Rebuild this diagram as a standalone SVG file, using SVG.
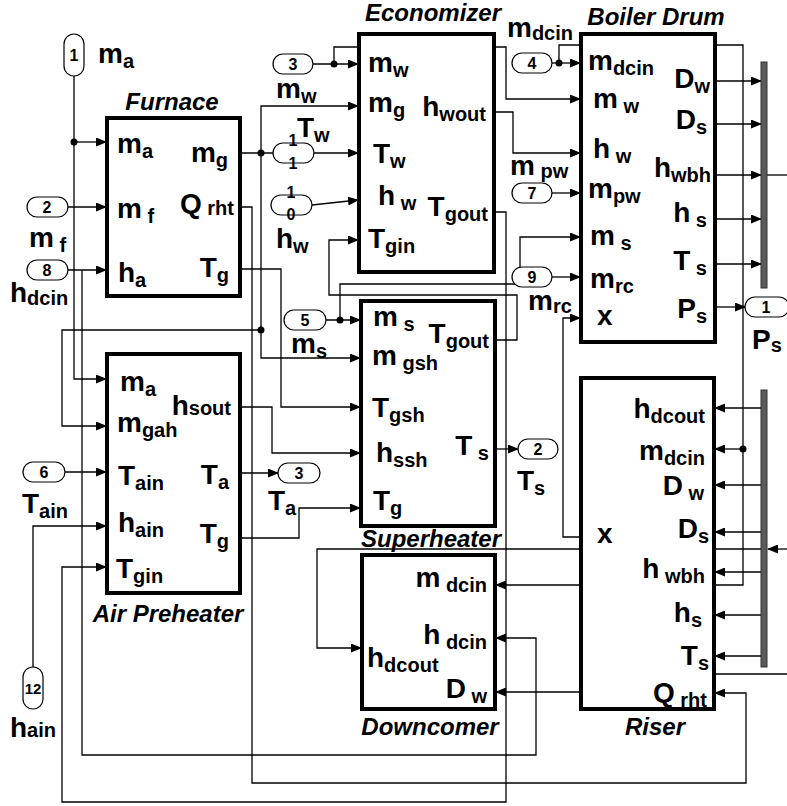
<svg xmlns="http://www.w3.org/2000/svg" width="787" height="806" viewBox="0 0 787 806">
<style>
.blk{fill:#fff;stroke:#000;stroke-width:4}
.w{fill:none;stroke:#000;stroke-width:1.3}
.a{marker-end:url(#ah)}
.port{fill:#fff;stroke:#000;stroke-width:1.2}
.bus{fill:#5a5a5a;stroke:#333;stroke-width:1}
text{font-family:"Liberation Sans",Arial,sans-serif;font-weight:bold;fill:#000}
.t{font-size:28px}
.s{font-size:20px}
.r{text-anchor:end}
.ti{font-size:24px;font-style:italic;text-anchor:middle}
.pn{font-size:16px;text-anchor:middle}
</style>
<defs>
<marker id="ah" markerUnits="userSpaceOnUse" markerWidth="11" markerHeight="9" refX="10" refY="4.5" orient="auto">
<path d="M0,0 L11,4.5 L0,9 z" fill="#000"/>
</marker>
</defs>
<rect width="787" height="806" fill="#fff"/>

<g id="connectors">
<polyline class="w a" points="74,76 74,379 106,379"/>
<polyline class="w a" points="74,142 106,142"/>
<circle cx="74" cy="142" r="3.5"/>
<polyline class="w a" points="68,207 106,207"/>
<polyline class="w a" points="68,270 106,270"/>
<polyline class="w a" points="82,270 82,755 536,755 536,638 496,638"/>
<polyline class="w" points="240,153 273,153"/>
<circle cx="261" cy="153" r="3.5"/>
<polyline class="w a" points="261,153 261,106 358,106"/>
<polyline class="w a" points="261,153 261,358 360,358"/>
<circle cx="261" cy="330" r="3.5"/>
<polyline class="w a" points="261,330 62,330 62,426 106,426"/>
<polyline class="w a" points="240,207 252,207 252,783 746,783 746,693 715,693"/>
<polyline class="w a" points="240,269 281,269 281,407 360,407"/>
<polyline class="w a" points="240,407 272,407 272,453 360,453"/>
<polyline class="w a" points="240,473 278,473"/>
<polyline class="w a" points="240,538 299,538 299,508 360,508"/>
<polyline class="w a" points="65,472 106,472"/>
<polyline class="w a" points="33,667 33,526 106,526"/>
<polyline class="w a" points="494,212 506,212 506,802 62,802 62,567 106,567"/>
<polyline class="w a" points="313,64 358,64"/>
<circle cx="334" cy="64" r="3.5"/>
<polyline class="w a" points="334,64 334,47 506,47 506,99 580,99"/>
<polyline class="w a" points="314,153 358,153"/>
<polyline class="w a" points="312,205 358,200"/>
<polyline class="w a" points="494,112 513,112 513,153 580,153"/>
<polyline class="w a" points="552,63 580,63"/>
<circle cx="559" cy="63" r="3.5"/>
<polyline class="w a" points="559,63 559,45 743,45 743,585 496,585"/>
<circle cx="743" cy="449" r="3.5"/>
<polyline class="w a" points="743,449 715,449"/>
<polyline class="w a" points="552,193 580,193"/>
<polyline class="w a" points="552,277 580,277"/>
<polyline class="w a" points="326,320 360,320"/>
<circle cx="340" cy="320" r="3.5"/>
<polyline class="w a" points="340,320 340,284 520,284 520,237 580,237"/>
<polyline class="w a" points="495,340 517,340 517,295 329,295 329,240 358,240"/>
<polyline class="w a" points="495,449 518,449"/>
<polyline class="w a" points="581,537 563,537 563,318 580,318"/>
<polyline class="w a" points="715,81 761,81"/>
<polyline class="w a" points="715,124 761,124"/>
<polyline class="w a" points="715,175 761,175"/>
<polyline class="w a" points="715,219 761,219"/>
<polyline class="w a" points="715,264 761,264"/>
<polyline class="w a" points="715,307 745,307"/>
<polyline class="w" points="767,175 787,175"/>
<polyline class="w a" points="761,408 715,408"/>
<polyline class="w a" points="761,485 715,485"/>
<polyline class="w a" points="761,532 715,532"/>
<polyline class="w a" points="761,572 715,572"/>
<polyline class="w a" points="761,615 715,615"/>
<polyline class="w a" points="761,656 715,656"/>
<polyline class="w a" points="787,549 768,549"/>
<polyline class="w a" points="761,549 317,549 317,648 361,648"/>
<polyline class="w a" points="787,674 625,674 625,692 496,692"/>
</g>

<g id="furnace">
<rect class="blk" x="107" y="118" width="133" height="178"/>
<text class="ti" x="172" y="110">Furnace</text>
<text class="t" x="117" y="153">m<tspan class="s" dy="5">a</tspan></text>
<text class="t" x="117" y="218">m<tspan class="s" dy="5"> f</tspan></text>
<text class="t" x="118" y="282">h<tspan class="s" dy="5">a</tspan></text>
<text class="t r" x="228" y="162">m<tspan class="s" dy="5">g</tspan></text>
<text class="t r" x="234" y="213">Q<tspan class="s" dy="2"> rht</tspan></text>
<text class="t r" x="229" y="277">T<tspan class="s" dy="5">g</tspan></text>
</g>

<g id="air-preheater">
<rect class="blk" x="107" y="354" width="133" height="239"/>
<text class="ti" x="168" y="622">Air Preheater</text>
<text class="t" x="120" y="391">m<tspan class="s" dy="5">a</tspan></text>
<text class="t" x="117" y="432">m<tspan class="s" dy="5">gah</tspan></text>
<text class="t" x="118" y="485">T<tspan class="s" dy="5">ain</tspan></text>
<text class="t" x="118" y="532">h<tspan class="s" dy="5">ain</tspan></text>
<text class="t" x="116" y="578">T<tspan class="s" dy="5">gin</tspan></text>
<text class="t r" x="231" y="415">h<tspan class="s" dy="0">sout</tspan></text>
<text class="t r" x="229" y="484">T<tspan class="s" dy="5">a</tspan></text>
<text class="t r" x="229" y="543">T<tspan class="s" dy="5">g</tspan></text>
</g>

<g id="economizer">
<rect class="blk" x="359" y="34" width="135" height="238"/>
<text class="ti" x="433" y="21">Economizer</text>
<text class="t" x="368" y="72">m<tspan class="s" dy="5">w</tspan></text>
<text class="t" x="368" y="112">m<tspan class="s" dy="5">g</tspan></text>
<text class="t" x="373" y="163">T<tspan class="s" dy="5">w</tspan></text>
<text class="t" x="378" y="205">h<tspan class="s" dy="5"> w</tspan></text>
<text class="t" x="368" y="248">T<tspan class="s" dy="5">gin</tspan></text>
<text class="t r" x="486" y="116">h<tspan class="s" dy="5">wout</tspan></text>
<text class="t r" x="488" y="216">T<tspan class="s" dy="5">gout</tspan></text>
</g>

<g id="boiler-drum">
<rect class="blk" x="581" y="34" width="134" height="308"/>
<text class="ti" x="656" y="25">Boiler Drum</text>
<text class="t" x="588" y="70">m<tspan class="s" dy="5">dcin</tspan></text>
<text class="t" x="593" y="108">m<tspan class="s" dy="5"> w</tspan></text>
<text class="t" x="593" y="158">h<tspan class="s" dy="5"> w</tspan></text>
<text class="t" x="588" y="198">m<tspan class="s" dy="5">pw</tspan></text>
<text class="t" x="590" y="245">m<tspan class="s" dy="5"> s</tspan></text>
<text class="t" x="590" y="288">m<tspan class="s" dy="5">rc</tspan></text>
<text class="t" x="597" y="325">x</text>
<text class="t r" x="710" y="88">D<tspan class="s" dy="5">w</tspan></text>
<text class="t r" x="707" y="129">D<tspan class="s" dy="5">s</tspan></text>
<text class="t r" x="711" y="177">h<tspan class="s" dy="5">wbh</tspan></text>
<text class="t r" x="707" y="222">h<tspan class="s" dy="5"> s</tspan></text>
<text class="t r" x="707" y="270">T<tspan class="s" dy="5"> s</tspan></text>
<text class="t r" x="707" y="318">P<tspan class="s" dy="5">s</tspan></text>
</g>

<g id="superheater">
<rect class="blk" x="361" y="301" width="134" height="225"/>
<text class="ti" x="431" y="547">Superheater</text>
<text class="t" x="373" y="326">m<tspan class="s" dy="5"> s</tspan></text>
<text class="t" x="372" y="365">m<tspan class="s" dy="5"> gsh</tspan></text>
<text class="t" x="372" y="417">T<tspan class="s" dy="5">gsh</tspan></text>
<text class="t" x="376" y="462">h<tspan class="s" dy="5">ssh</tspan></text>
<text class="t" x="373" y="510">T<tspan class="s" dy="5">g</tspan></text>
<text class="t r" x="489" y="343">T<tspan class="s" dy="5">gout</tspan></text>
<text class="t r" x="489" y="455">T<tspan class="s" dy="5"> s</tspan></text>
</g>

<g id="downcomer">
<rect class="blk" x="362" y="555" width="133" height="154"/>
<text class="ti" x="430" y="735">Downcomer</text>
<text class="t r" x="487" y="587">m<tspan class="s" dy="5"> dcin</tspan></text>
<text class="t r" x="487" y="644">h<tspan class="s" dy="5"> dcin</tspan></text>
<text class="t" x="367" y="667">h<tspan class="s" dy="5">dcout</tspan></text>
<text class="t r" x="487" y="698">D<tspan class="s" dy="5"> w</tspan></text>
</g>

<g id="riser">
<rect class="blk" x="581" y="378" width="133" height="331"/>
<text class="ti" x="655" y="735">Riser</text>
<text class="t r" x="705" y="418">h<tspan class="s" dy="5">dcout</tspan></text>
<text class="t r" x="705" y="460">m<tspan class="s" dy="5">dcin</tspan></text>
<text class="t r" x="704" y="495">D<tspan class="s" dy="5"> w</tspan></text>
<text class="t r" x="709" y="538">D<tspan class="s" dy="5">s</tspan></text>
<text class="t r" x="705" y="578">h<tspan class="s" dy="5"> wbh</tspan></text>
<text class="t r" x="702" y="622">h<tspan class="s" dy="5">s</tspan></text>
<text class="t r" x="709" y="665">T<tspan class="s" dy="5">s</tspan></text>
<text class="t r" x="707" y="702">Q<tspan class="s" dy="5"> rht</tspan></text>
<text class="t" x="597" y="543">x</text>
</g>

<g id="bus-upper"><rect class="bus" x="761" y="62" width="6" height="226"/></g>
<g id="bus-lower"><rect class="bus" x="761" y="390" width="6" height="277"/></g>

<g id="port-1-ma">
<rect class="port" x="64" y="34" width="20" height="42" rx="10"/>
<text class="pn" x="74" y="61">1</text>
<text class="t" x="98" y="63">m<tspan class="s" dy="5">a</tspan></text>
</g>
<g id="port-2-mf">
<rect class="port" x="27" y="197" width="41" height="20" rx="10"/>
<text class="pn" x="47" y="213">2</text>
<text class="t" x="29" y="247">m<tspan class="s" dy="5"> f</tspan></text>
</g>
<g id="port-8-hdcin">
<rect class="port" x="27" y="260" width="41" height="20" rx="10"/>
<text class="pn" x="47" y="276">8</text>
<text class="t" x="10" y="302">h<tspan class="s" dy="3">dcin</tspan></text>
</g>
<g id="port-6-tain">
<rect class="port" x="23" y="462" width="42" height="20" rx="10"/>
<text class="pn" x="44" y="478">6</text>
<text class="t" x="22" y="513">T<tspan class="s" dy="5">ain</tspan></text>
</g>
<g id="port-12-hain">
<rect class="port" x="23" y="667" width="20" height="42" rx="10"/>
<text class="pn" x="33" y="694" style="font-size:15px">12</text>
<text class="t" x="10" y="737">h<tspan class="s" dy="0">ain</tspan></text>
</g>
<g id="port-3-mw">
<rect class="port" x="273" y="54" width="40" height="20" rx="10"/>
<text class="pn" x="293" y="70">3</text>
<text class="t" x="276" y="98">m<tspan class="s" dy="5">w</tspan></text>
</g>
<g id="port-11-tw">
<rect class="port" x="273" y="143" width="41" height="20" rx="10"/>
<text class="pn" x="293" y="146">1</text>
<text class="pn" x="293" y="169">1</text>
<text class="t" x="297" y="137">T<tspan class="s" dy="5">w</tspan></text>
</g>
<g id="port-10-hw">
<rect class="port" x="271" y="195" width="41" height="20" rx="10"/>
<text class="pn" x="291" y="198">1</text>
<text class="pn" x="291" y="220">0</text>
<text class="t" x="276" y="248">h<tspan class="s" dy="5">w</tspan></text>
</g>
<g id="port-5-ms">
<rect class="port" x="284" y="310" width="42" height="20" rx="10"/>
<text class="pn" x="305" y="326">5</text>
<text class="t" x="291" y="353">m<tspan class="s" dy="5">s</tspan></text>
</g>
<g id="port-3-ta">
<rect class="port" x="278" y="463" width="42" height="20" rx="10"/>
<text class="pn" x="299" y="479">3</text>
<text class="t" x="268" y="510">T<tspan class="s" dy="5">a</tspan></text>
</g>
<g id="port-2-ts">
<rect class="port" x="518" y="439" width="40" height="20" rx="10"/>
<text class="pn" x="538" y="455">2</text>
<text class="t" x="517" y="490">T<tspan class="s" dy="5">s</tspan></text>
</g>
<g id="port-4-mdcin">
<rect class="port" x="512" y="53" width="40" height="20" rx="10"/>
<text class="pn" x="532" y="69">4</text>
<text class="t" x="507" y="37">m<tspan class="s" dy="3">dcin</tspan></text>
</g>
<g id="port-7-mpw">
<rect class="port" x="512" y="183" width="40" height="20" rx="10"/>
<text class="pn" x="532" y="199">7</text>
<text class="t" x="510" y="175">m<tspan class="s" dy="3"> pw</tspan></text>
</g>
<g id="port-9-mrc">
<rect class="port" x="512" y="267" width="40" height="20" rx="10"/>
<text class="pn" x="532" y="283">9</text>
<text class="t" x="528" y="310">m<tspan class="s" dy="3">rc</tspan></text>
</g>
<g id="port-1-ps">
<rect class="port" x="745" y="297" width="44" height="20" rx="10"/>
<text class="pn" x="766" y="313">1</text>
<text class="t" x="752" y="349">P<tspan class="s" dy="3">s</tspan></text>
</g>
</svg>
